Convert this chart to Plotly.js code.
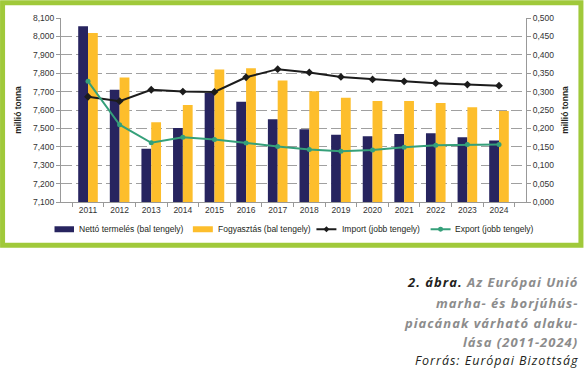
<!DOCTYPE html>
<html>
<head>
<meta charset="utf-8">
<script src="https://cdn.plot.ly/plotly-3.0.1.min.js"></script>
<style>
html,body{margin:0;padding:0;background:#fff;}
#chart{width:584px;height:382px;}
</style>
</head>
<body>
<div id="chart"></div>
<script>
// ---- data ----
const years = ['2011','2012','2013','2014','2015','2016','2017','2018','2019','2020','2021','2022','2023','2024'];
const netto = [8055, 7710, 7390, 7502, 7693, 7645, 7550, 7495, 7466, 7457, 7470, 7473, 7452, 7434];
const fogyasztas = [8018, 7776, 7534, 7627, 7820, 7827, 7760, 7702, 7667, 7649, 7649, 7638, 7615, 7595];
const importV = [0.286, 0.274, 0.305, 0.300, 0.299, 0.339, 0.361, 0.352, 0.340, 0.333, 0.328, 0.323, 0.319, 0.316];
const exportV = [0.328, 0.210, 0.161, 0.176, 0.170, 0.160, 0.151, 0.143, 0.138, 0.141, 0.149, 0.154, 0.156, 0.156];
const y2TickVals = [0, 0.05, 0.1, 0.15, 0.2, 0.25, 0.3, 0.35, 0.4, 0.45, 0.5];
const y2TickText = ['0,000','0,050','0,100','0,150','0,200','0,250','0,300','0,350','0,400','0,450','0,500'];
const seriesNames = ['Nettó termelés (bal tengely)','Fogyasztás (bal tengely)','Import (jobb tengely)','Export (jobb tengely)'];
const axisTitle = 'millió tonna';

// ---- styles ----
const W = 584, H = 382;
const M = {l: 61, r: 57.5, t: 17.7, b: 180};
const PW = W - M.l - M.r, PH = H - M.t - M.b;
const px = v => (v - M.l) / PW;
const py = v => (H - M.b - v) / PH;
const NAVY = '#27245f', YELLOW = '#fdbe2c', BLACK = '#1c1c1c', GREEN = '#35a07a', FRAME = '#a0c93a';
const GRAY = '#8c8c8c', DARK = '#231f20';
const tickFont = {family: 'Liberation Sans, Arial, sans-serif', size: 8.5, color: '#333'};

const traces = [
  {type: 'bar', x: years, y: netto, name: seriesNames[0], marker: {color: NAVY}, yaxis: 'y'},
  {type: 'bar', x: years, y: fogyasztas, name: seriesNames[1], marker: {color: YELLOW}, yaxis: 'y'},
  {type: 'scatter', mode: 'lines+markers', x: years, y: importV, name: seriesNames[2], yaxis: 'y2',
   line: {color: BLACK, width: 2}, marker: {symbol: 'diamond', size: 6, color: BLACK}},
  {type: 'scatter', mode: 'lines+markers', x: years, y: exportV, name: seriesNames[3], yaxis: 'y2',
   line: {color: GREEN, width: 2}, marker: {symbol: 'circle', size: 5, color: GREEN}}
];

const shapes = [
  // frame
  {type: 'rect', xref: 'paper', yref: 'paper', x0: px(2.5), x1: px(581.5), y0: py(2.3), y1: py(245.3),
   line: {color: FRAME, width: 5}, fillcolor: 'rgba(0,0,0,0)', layer: 'below'},
  // legend symbols
  {type: 'rect', xref: 'paper', yref: 'paper', x0: px(54.5), x1: px(74), y0: py(226.3), y1: py(232.3),
   line: {width: 0}, fillcolor: NAVY},
  {type: 'rect', xref: 'paper', yref: 'paper', x0: px(193), x1: px(213), y0: py(226.3), y1: py(232.3),
   line: {width: 0}, fillcolor: YELLOW},
  {type: 'line', xref: 'paper', yref: 'paper', x0: px(316.7), x1: px(336.7), y0: py(229.3), y1: py(229.3),
   line: {color: BLACK, width: 2}},
  {type: 'path', xref: 'paper', yref: 'paper',
   path: `M ${px(326.7)} ${py(226.3)} L ${px(329.7)} ${py(229.3)} L ${px(326.7)} ${py(232.3)} L ${px(323.7)} ${py(229.3)} Z`,
   line: {width: 0}, fillcolor: BLACK},
  {type: 'line', xref: 'paper', yref: 'paper', x0: px(431), x1: px(451), y0: py(229.3), y1: py(229.3),
   line: {color: GREEN, width: 2}},
  {type: 'circle', xref: 'paper', yref: 'paper', x0: px(438.5), x1: px(443.5), y0: py(226.8), y1: py(231.8),
   line: {width: 0}, fillcolor: GREEN}
];

const legendFont = {family: 'Liberation Sans, Arial, sans-serif', size: 8.5, color: DARK};
const legendX = [77, 216, 340, 453.5];
const annotations = legendX.map((x, i) => ({
  xref: 'paper', yref: 'paper', x: px(x), y: py(229.3), xanchor: 'left', yanchor: 'middle',
  text: seriesNames[i], showarrow: false, font: legendFont
}));

const SP = 'letter-spacing:1px';
const capFont = {family: 'Open Sans, sans-serif', size: 13, color: GRAY};
const capLines = [
  `<span style="${SP}"><b><i><span style="color:${DARK}">2. ábra.</span> Az Európai Unió</i></b></span>`,
  `<span style="${SP}"><b><i>marha- és borjúhús-</i></b></span>`,
  `<span style="${SP}"><b><i>piacának várható alaku-</i></b></span>`,
  `<span style="${SP}"><b><i>lása (2011-2024)</i></b></span>`
];
const capY = [281.7, 302.7, 322.7, 342.3];
capLines.forEach((t, i) => annotations.push({
  xref: 'paper', yref: 'paper', x: px(580.5), y: py(capY[i]), xanchor: 'right', yanchor: 'middle',
  text: t, showarrow: false, font: capFont
}));
annotations.push({
  xref: 'paper', yref: 'paper', x: px(580.5), y: py(361), xanchor: 'right', yanchor: 'middle',
  text: `<span style="${SP}"><i>Forrás: Európai Bizottság</i></span>`, showarrow: false,
  font: {family: 'Open Sans, sans-serif', size: 12.5, color: DARK}
});

const layout = {
  width: W, height: H, margin: M,
  paper_bgcolor: '#fff', plot_bgcolor: '#fff',
  showlegend: false,
  barmode: 'group', bargap: 0.38, bargroupgap: 0,
  separators: '.,',
  xaxis: {type: 'category', showline: true, linecolor: '#999', linewidth: 1,
    ticks: 'outside', tickson: 'boundaries', ticklen: 4, tickcolor: '#999',
    tickfont: tickFont, showgrid: false, fixedrange: true},
  yaxis: {range: [7100, 8100], dtick: 100, tick0: 7100, tickformat: ',d',
    showline: true, linecolor: '#999', ticks: 'outside', ticklen: 4, tickcolor: '#999',
    tickfont: tickFont, showgrid: true, gridcolor: '#a0a0a0', gridwidth: 1, griddash: '11px,4px',
    zeroline: false,
    title: {text: axisTitle, standoff: 10, font: {family: 'Liberation Sans, Arial, sans-serif', size: 8.5, color: DARK, weight: 'bold'}}},
  yaxis2: {range: [0, 0.5], overlaying: 'y', side: 'right', tickvals: y2TickVals, ticktext: y2TickText,
    showline: true, linecolor: '#999', ticks: 'outside', ticklen: 4, tickcolor: '#999',
    tickfont: tickFont, showgrid: false, zeroline: false,
    title: {text: axisTitle, standoff: 8, font: {family: 'Liberation Sans, Arial, sans-serif', size: 8.5, color: DARK, weight: 'bold'}}},
  shapes: shapes,
  annotations: annotations
};

Plotly.newPlot('chart', traces, layout, {displayModeBar: false, staticPlot: true});
</script>
</body>
</html>
